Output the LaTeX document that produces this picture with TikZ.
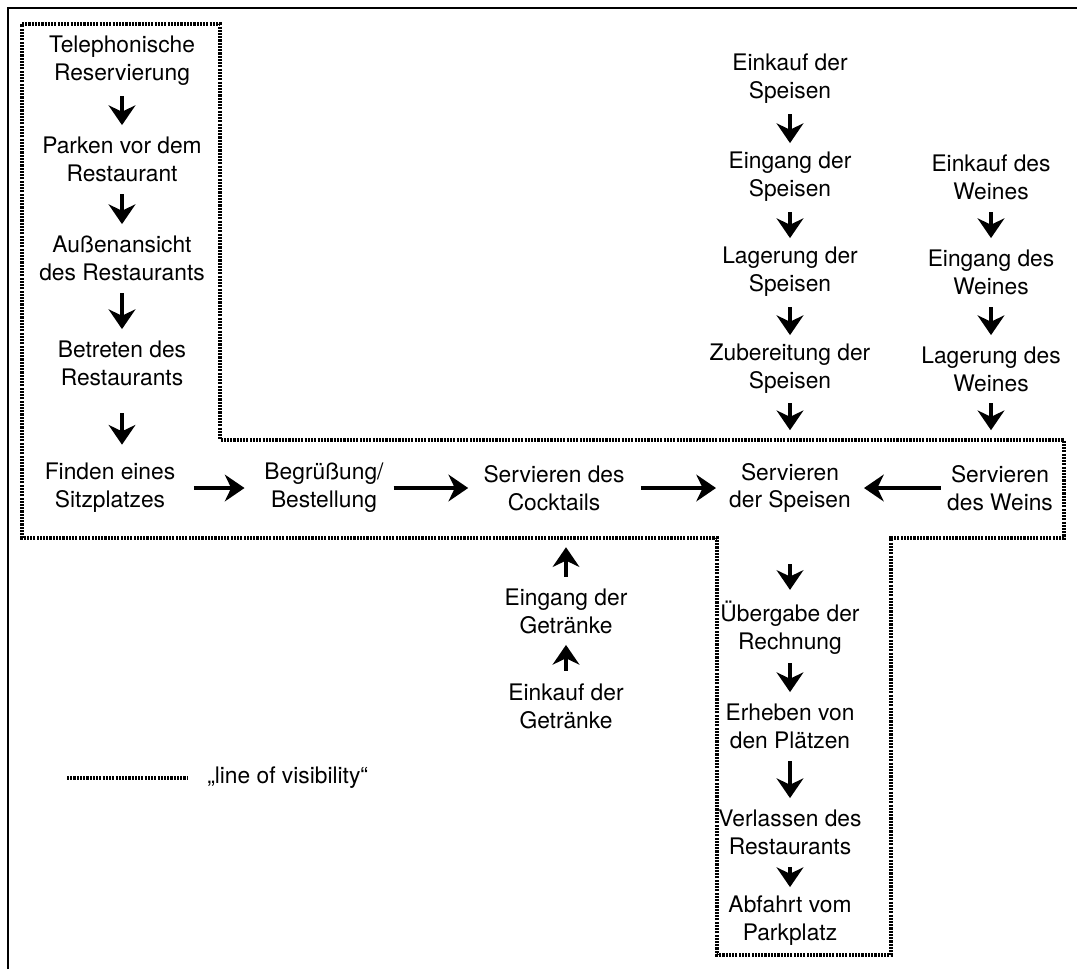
\documentclass[tikz,border=0pt]{standalone}
\usepackage{fontspec}
\setmainfont{TeX Gyre Heros}
\usetikzlibrary{positioning}
\usetikzlibrary{arrows.meta}

\begin{document}
\begin{tikzpicture}[x=0.025cm, y=-0.025cm,
	txt/.style={align=center, inner sep=0pt, minimum height=1.4cm, font=\fontsize{16.2}{19.8}\selectfont},
	flow/.style={line width=2.3pt, -{Stealth[length=14pt, width=19pt, inset=4.5pt]}, shorten <=5pt, shorten >=4pt},
	visline/.style={line width=2.2pt, dash pattern=on 1.5pt off 0.8pt}]
		\useasboundingbox (0,0) rectangle (1077,969);
		\draw[line width=1.6pt] (8,969) -- (8,8) -- (1077,8);

		% line of visibility
		\draw[visline] (22,24) -- (220,24) -- (220,440) -- (1064,440) -- (1064,538) -- (891,538)
			-- (891,955) -- (717,955) -- (717,538) -- (22,538) -- cycle;

		\node[txt] at (122,61) (tel) {Telephonische\\Reservierung};
		\node[txt] at (122,159) (park) {Parken vor dem\\Restaurant};
		\node[txt] at (122,258) (aussen) {Außenansicht\\des Restaurants};
		\node[txt] at (122,363) (betreten) {Betreten des\\Restaurants};

		\node[txt] at (110,488) (finden) {Finden eines\\Sitzplatzes};
		\node[txt] at (324,488) (begr) {Begrüßung/\\Bestellung};
		\node[txt] at (554,488) (cocktail) {Servieren des\\Cocktails};
		\node[txt] at (790,488) (servsp) {Servieren\\der Speisen};
		\node[txt] at (1000,488) (servw) {Servieren\\des Weins};

		\node[txt] at (790,79) (einks) {Einkauf der\\Speisen};
		\node[txt] at (790,177) (eings) {Eingang der\\Speisen};
		\node[txt] at (790,272) (lags) {Lagerung der\\Speisen};
		\node[txt] at (790,369) (zubs) {Zubereitung der\\Speisen};

		\node[txt] at (991,177) (einkw) {Einkauf des\\Weines};
		\node[txt] at (991,272) (eingw) {Eingang des\\Weines};
		\node[txt] at (991,369) (lagw) {Lagerung des\\Weines};

		\node[txt] at (566,611) (eingg) {Eingang der\\Getränke};
		\node[txt] at (566,706) (einkg) {Einkauf der\\Getränke};

		\node[txt] at (790,628) (uebergabe) {Übergabe der\\Rechnung};
		\node[txt] at (790,726) (erheben) {Erheben von\\den Plätzen};
		\node[txt] at (790,832) (verlassen) {Verlassen des\\Restaurants};
		\node[txt] at (790,921) (abfahrt) {Abfahrt vom\\Parkplatz};

		% legend
		\draw[visline] (67,778) -- (187,778);
		\node[txt, anchor=west] at (207,778) (legende) {„line of visibility“};

		\draw[flow] (tel) to (park);
		\draw[flow] (park) to (aussen);
		\draw[flow] (aussen) to (betreten);
		\draw[flow, shorten <=15.6pt, shorten >=10.7pt] (betreten) to (betreten |- finden.north);

		\draw[flow, shorten <=13pt, shorten >=14pt] (finden) to (begr);
		\draw[flow, shorten <=7pt, shorten >=10.7pt] (begr) to (cocktail);
		\draw[flow, shorten <=11.4pt, shorten >=9.2pt] (cocktail) to (servsp);
		\draw[flow, shorten <=4.3pt, shorten >=9.2pt] (servw) to (servsp);

		\draw[flow] (einks) to (eings);
		\draw[flow] (eings) to (lags);
		\draw[flow] (lags) to (zubs);
		\draw[flow, shorten <=4.3pt, shorten >=21pt] (zubs) to (servsp);

		\draw[flow] (einkw) to (eingw);
		\draw[flow] (eingw) to (lagw);
		\draw[flow, shorten <=4.3pt, shorten >=21pt] (lagw) to (lagw |- servw.north);

		\draw[flow] (einkg) to (eingg);
		\draw[flow, shorten <=4.3pt, shorten >=22pt] (eingg) to (eingg |- cocktail.south);

		\draw[flow, shorten <=34pt, shorten >=7pt] (servsp) to (uebergabe);
		\draw[flow] (uebergabe) to (erheben);
		\draw[flow] (erheben) to (verlassen);
		\draw[flow] (verlassen) to (abfahrt);
	\end{tikzpicture}
\end{document}
